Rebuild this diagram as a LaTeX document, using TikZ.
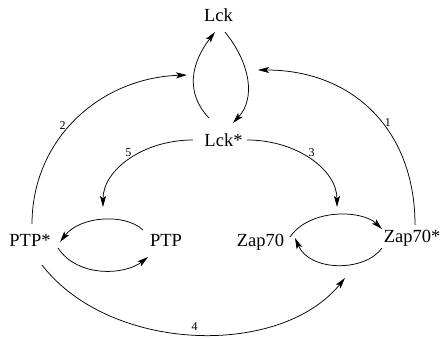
\documentclass[tikz,border=0pt]{standalone}
\usepackage{fontspec}
\setmainfont{Liberation Serif}
\usetikzlibrary{arrows.meta}
\begin{document}
\begin{tikzpicture}[x=1pt,y=1pt,
  species/.style={inner sep=0pt,anchor=base,font=\fontsize{18.5}{22}\selectfont},
  rate/.style={inner sep=0pt,font=\fontsize{12}{14}\selectfont},
  link/.style={line width=0.75pt,-{Stealth[length=11pt,width=6pt,inset=2.5pt]}}]
\useasboundingbox (0,0) rectangle (446,338);

% species
\node[species] (lck)  at (218.5,316.3) {Lck};
\node[species] (lcks) at (223.5,191.3) {Lck*};
\node[species] (ptps) at (30,91.3)     {PTP*};
\node[species] (ptp)  at (166,91.3)    {PTP};
\node[species] (zap)  at (260.5,91.3)  {Zap70};
\node[species] (zaps) at (412,95.3)    {Zap70*};

% targets of the catalytic arrows
\coordinate (ptpcycle) at (103,131);
\coordinate (zapcycle) at (337,131);
\coordinate (zapback)  at (345,60);

% Lck <-> Lck*
\draw[link] ([shift={(6.5,-10.3)}]lck.base) .. controls +(25,-31) and +(23,25) .. ([shift={(9.5,23.7)}]lcks.base);
\draw[link] ([shift={(-14.5,28.7)}]lcks.base) .. controls +(-24,25) and +(-24,-31) .. ([shift={(-3.5,-10.3)}]lck.base);

% feedback onto Lck
\draw[link] ([shift={(2,22.7)}]ptps.base) .. controls +(0,84) and +(-88,-3) .. ([shift={(-31.5,-53.3)}]lck.base)
  node[rate,pos=0.46,left=4pt] {2};
\draw[link] ([shift={(3,17.7)}]zaps.base) .. controls +(0,95) and +(95,0) .. ([shift={(39.5,-48.3)}]lck.base)
  node[rate,pos=0.44,right=3pt] {1};

% Lck* acting on the two cycles
\draw[link] ([shift={(-30.5,6.7)}]lcks.base) .. controls +(-50,0) and +(0,37) .. (ptpcycle)
  node[rate,pos=0.51,above=3.5pt] {5};
\draw[link] ([shift={(23.5,6.7)}]lcks.base) .. controls +(50,0) and +(0,37) .. (zapcycle)
  node[rate,pos=0.51,above=3.5pt] {3};

% PTP cycle
\draw[link] ([shift={(-23,16.7)}]ptp.base) .. controls +(-18,17) and +(20,26) .. ([shift={(30,4.7)}]ptps.base);
\draw[link] ([shift={(28,-1.3)}]ptps.base) .. controls +(20,-30) and +(-23,-18) .. ([shift={(-18,-10.3)}]ptp.base);

% Zap70 cycle
\draw[link] ([shift={(29.5,9.7)}]zap.base) .. controls +(20,29) and +(-20,19) .. ([shift={(-30,13.7)}]zaps.base);
\draw[link] ([shift={(-30,-5.3)}]zaps.base) .. controls +(-17,-24) and +(15,-34) .. ([shift={(34.5,8.7)}]zap.base);

% PTP* acting on Zap70* -> Zap70
\draw[link] ([shift={(12,-18.3)}]ptps.base) .. controls (110,-15) and (280,-20) .. (zapback)
  node[rate,pos=0.5,above=4pt] {4};
\end{tikzpicture}
\end{document}
